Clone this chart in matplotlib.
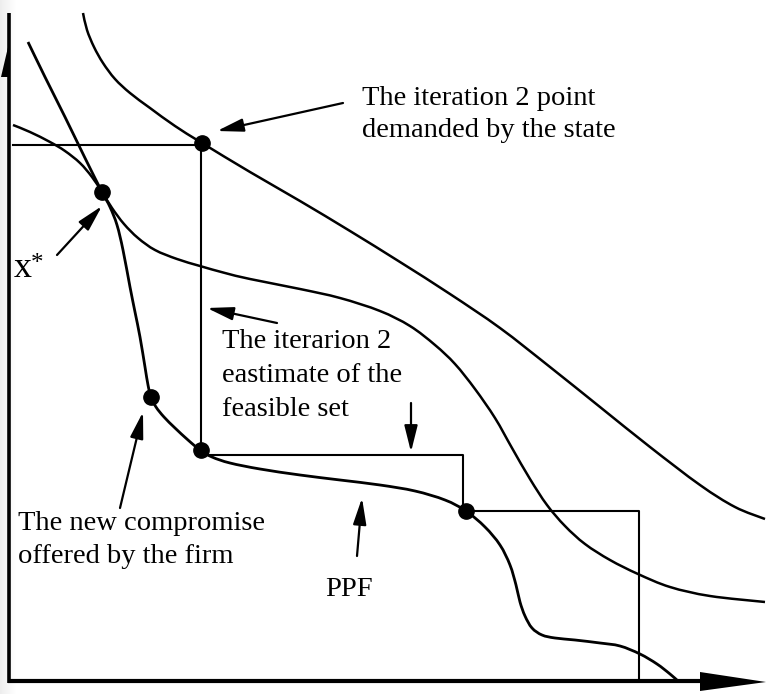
import matplotlib
matplotlib.use("Agg")
import matplotlib.pyplot as plt
import numpy as np
from matplotlib.patches import Polygon, PathPatch
from matplotlib.path import Path

W, H = 770, 694

# ---- curves (pixel coordinates, y downward) ----
outer_x = [83, 87, 94, 103, 115, 130, 150, 175, 202, 250, 300, 350, 400, 450,
           500, 550, 600, 650, 700, 735, 765]
outer_y = [13, 30, 47, 63, 79, 93, 108, 126, 143, 172, 201, 231, 262, 294,
           328, 367, 407, 447, 485, 507, 519]

mid_x = [13, 30, 50, 65, 80, 92, 102, 112, 124, 138, 155, 177, 200, 225, 250,
         300, 340, 380, 410, 435, 455, 475, 495, 512, 530, 547, 565, 585, 610,
         638, 670, 710, 765]
mid_y = [125, 132, 142, 151, 163, 177, 192, 208, 224, 238, 250, 259, 266, 273,
         279, 289, 298, 311, 326, 345, 364, 389, 418, 448, 479, 505, 526, 544,
         560, 574, 587, 596, 602]

ppf_x = [28, 45, 65, 85, 102, 110, 117, 123, 130, 135, 140, 145, 148, 151, 156,
         164, 175, 188, 200, 212, 230, 260, 300, 340, 380, 415, 445, 466, 485,
         500, 510, 516, 520, 525, 532, 542, 555, 575, 600, 620, 640, 657, 670,
         678]
ppf_y = [42, 77, 117, 158, 192, 207, 225, 250, 287, 312, 337, 367, 385, 397,
         407, 417, 428, 440, 450, 457, 463, 469, 475, 480, 485, 491, 500, 511,
         527, 545, 565, 585, 602, 616, 628, 635, 638, 640, 643, 646, 654, 664,
         674, 681]

step_x = [13, 201, 201, 463, 463, 639, 639]
step_y = [145, 145, 455, 455, 511, 511, 681]

dot_x = [202, 102, 151, 201, 466]
dot_y = [143, 192, 397, 450, 511]

# annotation arrows: (tail_x, tail_y, tip_x, tip_y)
arrow_tail_x = [343, 57, 277, 411, 120, 357]
arrow_tail_y = [103, 255, 323, 403, 508, 556]
arrow_tip_x = [217, 102, 207, 411, 143, 362]
arrow_tip_y = [131, 206, 308, 452, 412, 498]

label_texts = ["The iteration 2 point", "demanded by the state",
               "The iterarion 2", "eastimate of the", "feasible set",
               "The new compromise", "offered by the firm", "PPF"]
label_x = [362, 362, 222, 222, 222, 18, 18, 325]
label_y = [105, 137, 348, 382, 416, 530, 563, 596]


def smooth_path(xs, ys):
    """Cubic Bezier path passing through every read point (Catmull-Rom)."""
    p = np.column_stack([xs, ys]).astype(float)
    ext = np.vstack([p[0], p, p[-1]])
    verts = [p[0]]
    codes = [Path.MOVETO]
    for i in range(1, len(ext) - 2):
        p0, p1, p2, p3 = ext[i - 1], ext[i], ext[i + 1], ext[i + 2]
        c1 = p1 + (p2 - p0) / 6.0
        c2 = p2 - (p3 - p1) / 6.0
        verts += [c1, c2, p2]
        codes += [Path.CURVE4] * 3
    return Path(verts, codes)


fig = plt.figure(figsize=(W / 100, H / 100), dpi=100)
ax = fig.add_axes([0, 0, 1, 1])

# faint scan shadow along the left edge
grad = np.linspace(0.8, 1.0, 64)[None, :]
ax.imshow(np.repeat(grad, 2, axis=0), cmap="gray", vmin=0, vmax=1,
          extent=[0, 16, H, 0], aspect="auto", alpha=0.35, zorder=0)
ax.set_xlim(0, W)
ax.set_ylim(H, 0)
ax.axis("off")

# axes of the diagram
ax.plot([9, 9], [13, 683], color="black", lw=2.6, solid_capstyle="butt")
ax.plot([8, 712], [681, 681], color="black", lw=3.0, solid_capstyle="butt")
ax.add_patch(Polygon([[700, 672], [766, 682], [700, 691]], closed=True,
                     color="black", lw=0))
ax.add_patch(Polygon([[9, 43], [1, 77], [9, 77]], closed=True,
                     color="black", lw=0))

# curves
for xs, ys, lw in [(outer_x, outer_y, 1.8), (mid_x, mid_y, 1.8),
                   (ppf_x, ppf_y, 2.0)]:
    ax.add_patch(PathPatch(smooth_path(xs, ys), facecolor="none",
                           edgecolor="black", lw=lw))
ax.plot(step_x, step_y, color="black", lw=1.5)
ax.plot(dot_x, dot_y, "o", color="black", ms=11)

# arrows
for tx, ty, hx, hy in zip(arrow_tail_x, arrow_tail_y, arrow_tip_x, arrow_tip_y):
    ax.annotate("", xy=(hx, hy), xytext=(tx, ty),
                arrowprops=dict(arrowstyle="-|>,head_length=0.8,head_width=0.2",
                                color="black", lw=1.6, mutation_scale=20,
                                shrinkA=0, shrinkB=0))

# labels
for s, x, y in zip(label_texts, label_x, label_y):
    ax.text(x, y, s, fontsize=20.5, family="Liberation Serif",
            ha="left", va="baseline", color="black")

ax.text(14, 277, "x", fontsize=26, family="Liberation Serif",
        ha="left", va="baseline")
ax.text(31, 270, "*", fontsize=18, family="Liberation Serif",
        ha="left", va="baseline")

fig.savefig("out.png", dpi=100)
